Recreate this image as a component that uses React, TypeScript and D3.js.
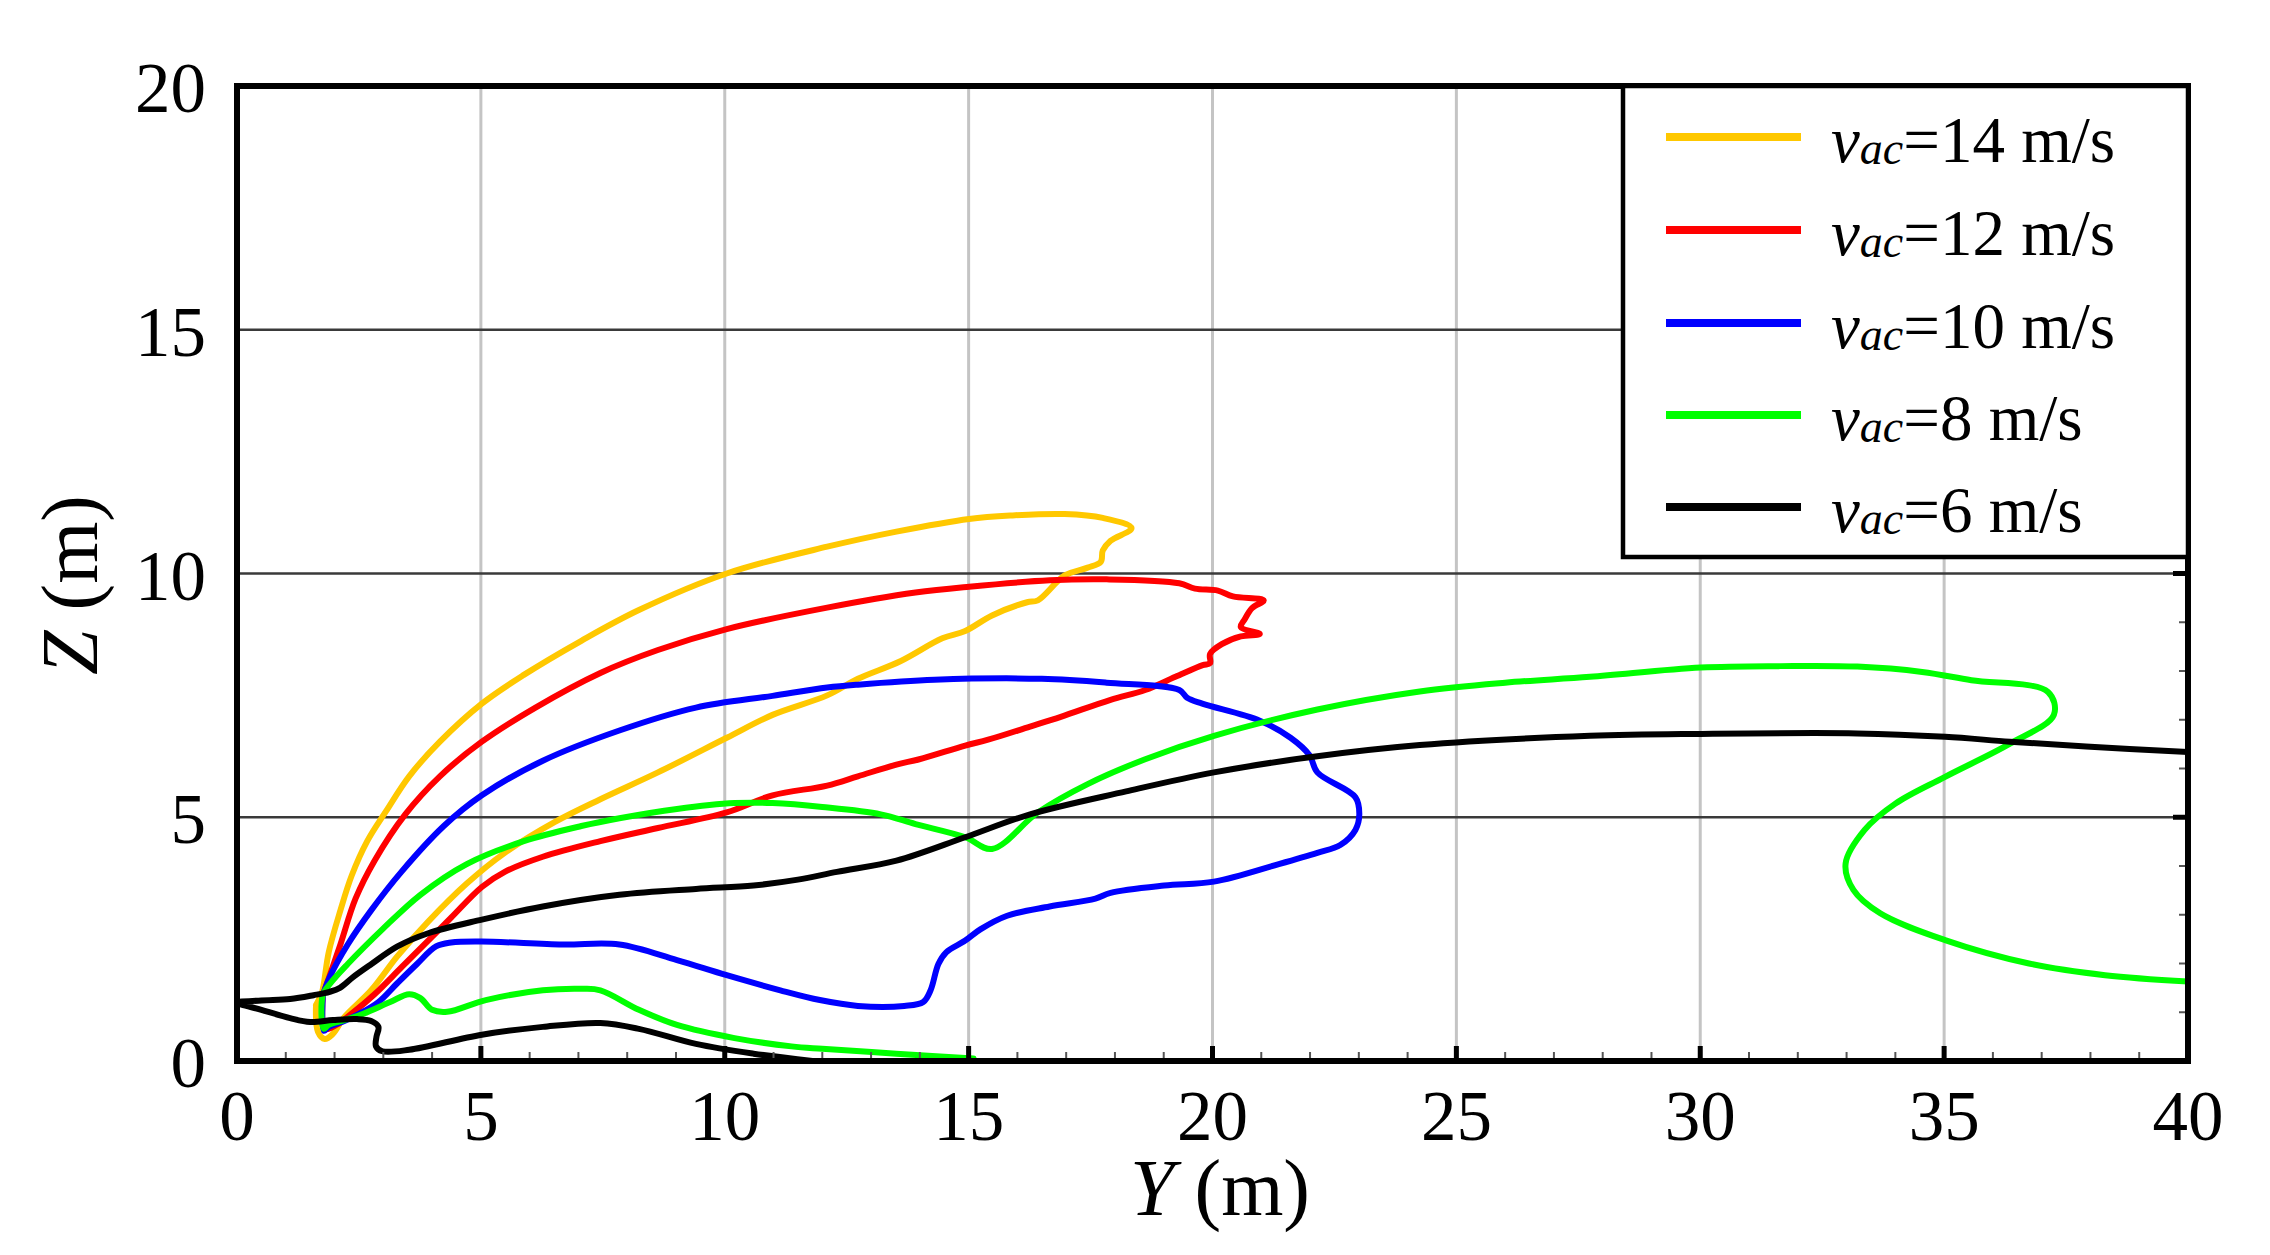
import React from "react";
import * as d3 from "d3";

type P = [number, number];

// Y (m), Z (m) points
const series14: P[] = [
  [1.62, 1.15], [1.74, 1.4], [1.88, 2.23], [2.12, 3.09], [2.35, 3.8], [2.67, 4.51], [3.06, 5.13],
  [3.53, 5.84], [4.16, 6.55], [5.02, 7.33], [5.88, 7.92], [7.06, 8.62], [8.24, 9.25], [10.04, 10.0],
  [12.1, 10.55], [13.52, 10.86], [15.01, 11.12], [15.87, 11.19], [16.97, 11.22], [17.75, 11.14],
  [18.34, 10.93], [17.91, 10.67], [17.75, 10.47], [17.71, 10.24], [17.44, 10.12], [16.97, 9.96],
  [16.42, 9.45], [16.2, 9.41], [15.48, 9.14], [14.93, 8.82], [14.46, 8.67], [13.6, 8.2],
  [12.73, 7.84], [12.1, 7.5], [10.98, 7.1], [10.04, 6.63], [8.63, 5.92], [7.45, 5.37], [6.51, 4.9],
  [5.49, 4.27], [4.71, 3.64], [3.92, 2.86], [3.29, 2.15], [2.75, 1.45], [2.2, 0.9], [1.96, 0.55],
  [1.8, 0.45], [1.66, 0.6], [1.62, 1.15],
];

const series12: P[] = [
  [1.76, 1.35], [1.9, 1.75], [2.12, 2.39], [2.43, 3.33], [2.82, 4.11], [3.45, 5.06], [4.16, 5.84],
  [5.02, 6.55], [6.12, 7.25], [7.45, 7.96], [8.63, 8.43], [10.04, 8.86], [12.1, 9.3], [13.91, 9.61],
  [15.01, 9.73], [16.66, 9.86], [17.83, 9.88], [19.32, 9.8], [19.64, 9.69], [20.11, 9.65],
  [20.42, 9.53], [21.05, 9.45], [20.81, 9.29], [20.66, 9.06], [20.58, 8.9], [20.97, 8.76],
  [20.58, 8.71], [20.19, 8.55], [19.95, 8.35], [19.95, 8.16], [19.8, 8.12], [19.24, 7.88],
  [18.62, 7.61], [17.91, 7.41], [16.89, 7.06], [16.26, 6.86], [15.4, 6.59], [14.93, 6.47],
  [13.99, 6.19], [13.52, 6.08], [12.73, 5.84], [12.1, 5.65], [10.98, 5.45], [10.04, 5.1],
  [8.63, 4.78], [7.45, 4.51], [6.27, 4.19], [5.49, 3.88], [5.02, 3.57], [4.39, 2.94], [3.92, 2.47],
  [3.37, 1.92], [2.82, 1.37], [2.35, 0.97], [2.04, 0.74], [1.8, 0.66], [1.76, 1.35],
];

const series10: P[] = [
  [1.76, 1.35], [1.9, 1.72], [2.27, 2.39], [2.75, 3.09], [3.37, 3.88], [4.24, 4.82], [5.02, 5.45],
  [6.27, 6.16], [7.84, 6.78], [9.41, 7.25], [10.98, 7.49], [12.1, 7.66], [12.73, 7.72], [14.3, 7.82],
  [16.5, 7.84], [17.83, 7.76], [19.32, 7.61], [19.48, 7.45], [19.79, 7.33], [20.97, 6.98],
  [21.6, 6.63], [21.99, 6.27], [22.15, 5.92], [22.93, 5.41], [23.01, 5.06], [22.93, 4.74],
  [22.62, 4.43], [22.15, 4.27], [21.36, 4.04], [20.03, 3.68], [19.01, 3.6], [17.91, 3.45],
  [17.6, 3.33], [16.66, 3.17], [15.79, 2.98], [15.24, 2.7], [14.93, 2.47], [14.54, 2.23],
  [14.38, 1.99], [14.22, 1.45], [14.07, 1.21], [13.68, 1.13], [12.73, 1.13], [11.95, 1.25],
  [11.14, 1.45], [10.04, 1.76], [9.02, 2.07], [7.84, 2.39], [6.67, 2.39], [5.02, 2.45],
  [4.39, 2.43], [4.08, 2.35], [3.69, 1.99], [3.29, 1.6], [2.9, 1.21], [2.51, 0.97], [2.2, 0.82],
  [1.88, 0.7], [1.78, 0.62], [1.76, 1.35],
];

const series8: P[] = [
  [15.1, 0.05], [13.52, 0.15], [12.0, 0.25], [11.37, 0.3], [10.2, 0.47], [9.02, 0.74], [8.24, 1.05],
  [7.45, 1.45], [7.06, 1.48], [6.27, 1.45], [5.1, 1.25], [4.31, 1.01], [4.0, 1.05], [3.76, 1.29],
  [3.53, 1.37], [3.14, 1.21], [2.59, 0.97], [2.2, 0.84], [1.88, 0.74], [1.78, 0.66], [1.76, 1.35],
  [1.92, 1.6], [2.27, 1.99], [2.98, 2.7], [3.76, 3.41], [4.71, 4.04], [5.88, 4.51], [7.06, 4.82],
  [7.84, 4.98], [9.02, 5.17], [10.2, 5.29], [10.98, 5.29], [12.0, 5.21], [13.2, 5.06],
  [13.91, 4.86], [14.93, 4.59], [15.48, 4.35], [16.42, 5.1], [17.44, 5.68], [18.62, 6.19],
  [20.03, 6.67], [22.15, 7.21], [24.25, 7.58], [26.0, 7.76], [27.74, 7.88], [30.01, 8.07],
  [31.65, 8.1], [33.22, 8.09], [34.55, 7.98], [35.56, 7.81], [37.13, 7.57], [37.25, 7.1],
  [36.35, 6.51], [35.02, 5.83], [34.0, 5.28], [33.37, 4.74], [32.98, 4.05], [33.14, 3.51],
  [33.69, 3.03], [35.02, 2.48], [36.74, 2.0], [38.3, 1.76], [40.0, 1.63],
];

const series6: P[] = [
  [11.8, 0.0], [10.59, 0.15], [9.41, 0.35], [8.24, 0.66], [7.45, 0.78], [6.27, 0.7], [5.02, 0.54],
  [3.53, 0.23], [2.98, 0.2], [2.85, 0.3], [2.86, 0.5], [2.9, 0.7], [2.75, 0.82], [2.46, 0.86],
  [1.97, 0.84], [1.5, 0.8], [1.09, 0.88], [0.5, 1.05], [0.0, 1.2], [0.5, 1.24], [1.09, 1.27],
  [1.57, 1.35], [1.9, 1.42], [2.11, 1.5], [2.38, 1.72], [2.73, 1.97], [3.29, 2.35], [3.92, 2.62],
  [5.02, 2.9], [6.27, 3.17], [7.84, 3.41], [9.41, 3.53], [10.59, 3.6], [11.5, 3.72], [12.3, 3.88],
  [13.52, 4.11], [14.93, 4.59], [16.26, 5.06], [18.23, 5.53], [20.03, 5.92], [21.99, 6.23],
  [24.25, 6.48], [27.74, 6.67], [30.01, 6.71], [33.22, 6.72], [35.02, 6.65], [36.35, 6.55],
  [37.91, 6.45], [40.0, 6.34],
];

const seriesSpeeds = ["14", "12", "10", "8", "6"];
const seriesColors = ["#FFC800", "#FF0000", "#0000FF", "#00FF00", "#000000"];
const seriesData = [series14, series12, series10, series8, series6];

const xTicks = [0, 5, 10, 15, 20, 25, 30, 35, 40];
const yTicks = [0, 5, 10, 15, 20];

const W = 2270;
const H = 1255;
const L = 237, R = 2188, T = 86, B = 1061;
const serif = "'Liberation Serif', 'Times New Roman', Times, serif";

export default function App() {
  const x = d3.scaleLinear().domain([0, 40]).range([L, R]);
  const y = d3.scaleLinear().domain([0, 20]).range([B, T]);
  const line = d3
    .line<P>()
    .x((d) => x(d[0]))
    .y((d) => y(d[1]))
    .curve(d3.curveCatmullRom.alpha(0.5));

  const minorX = d3.range(0, 41);
  const minorY = d3.range(0, 21);

  const legendX = 1623, legendY = T, legendW = R - legendX, legendH = 557 - T;
  const legendRows = [137, 230, 323, 415, 507];

  return (
    <svg
      width={W}
      height={H}
      viewBox={`0 0 ${W} ${H}`}
      style={{ position: "absolute", left: 0, top: 0, display: "block", background: "#fff" }}
      fontFamily={serif}
    >
      <defs>
        <clipPath id="plotClip">
          <rect x={L} y={T} width={R - L} height={B - T} />
        </clipPath>
      </defs>
      <rect x={0} y={0} width={W} height={H} fill="#fff" />

      {/* grid */}
      {xTicks.filter((t) => t > 0 && t < 40).map((t) => (
        <line key={"gx" + t} x1={x(t)} x2={x(t)} y1={T} y2={B} stroke="#c4c4c4" strokeWidth={3} />
      ))}
      {yTicks.filter((t) => t > 0 && t < 20).map((t) => (
        <line key={"gy" + t} x1={L} x2={R} y1={y(t)} y2={y(t)} stroke="#3a3a3a" strokeWidth={2.5} />
      ))}

      {/* curves */}
      <g clipPath="url(#plotClip)">
        {seriesData.map((d, i) => (
          <path
            key={"s" + i}
            d={line(d) || ""}
            fill="none"
            stroke={seriesColors[i]}
            strokeWidth={6}
            strokeLinejoin="round"
            strokeLinecap="round"
          />
        ))}
      </g>

      {/* ticks */}
      {minorX.map((t) => {
        const major = t % 5 === 0;
        return (
          <line
            key={"tx" + t}
            x1={x(t)}
            x2={x(t)}
            y1={B}
            y2={B - (major ? 15 : 9)}
            stroke={major ? "#000" : "#555"}
            strokeWidth={major ? 5 : 2}
          />
        );
      })}
      {minorY.map((t) => {
        const major = t % 5 === 0;
        return (
          <line
            key={"ty" + t}
            x1={R}
            x2={R - (major ? 15 : 9)}
            y1={y(t)}
            y2={y(t)}
            stroke={major ? "#000" : "#555"}
            strokeWidth={major ? 5 : 2}
          />
        );
      })}

      {/* frame */}
      <rect x={L} y={T} width={R - L} height={B - T} fill="none" stroke="#000" strokeWidth={6} />

      {/* legend */}
      <rect x={legendX} y={legendY} width={legendW} height={legendH} fill="#fff" stroke="#000" strokeWidth={4.5} />
      {seriesSpeeds.map((s, i) => (
        <g key={"lg" + i}>
          <line
            x1={1666}
            x2={1801}
            y1={legendRows[i]}
            y2={legendRows[i]}
            stroke={seriesColors[i]}
            strokeWidth={8}
          />
          <text x={1831} y={legendRows[i] + 25} fontSize={65} fill="#000">
            <tspan fontStyle="italic">v</tspan>
            <tspan fontStyle="italic" fontSize={46} dy={2}>ac</tspan>
            <tspan dy={-2}>{`=${s} m/s`}</tspan>
          </text>
        </g>
      ))}

      {/* tick labels */}
      {xTicks.map((t) => (
        <text key={"lx" + t} x={x(t)} y={1140} fontSize={71} textAnchor="middle" fill="#000">
          {t}
        </text>
      ))}
      {yTicks.map((t) => (
        <text key={"ly" + t} x={206} y={y(t) + 26} fontSize={71} textAnchor="end" fill="#000">
          {t}
        </text>
      ))}

      {/* axis titles */}
      <text x={1130} y={1215} fontSize={80} fill="#000">
        <tspan fontStyle="italic">Y</tspan>
        <tspan> (m)</tspan>
      </text>
      <text x={0} y={0} fontSize={80} fill="#000" textAnchor="middle" transform="translate(97,585) rotate(-90)">
        <tspan fontStyle="italic">Z</tspan>
        <tspan> (m)</tspan>
      </text>
    </svg>
  );
}
